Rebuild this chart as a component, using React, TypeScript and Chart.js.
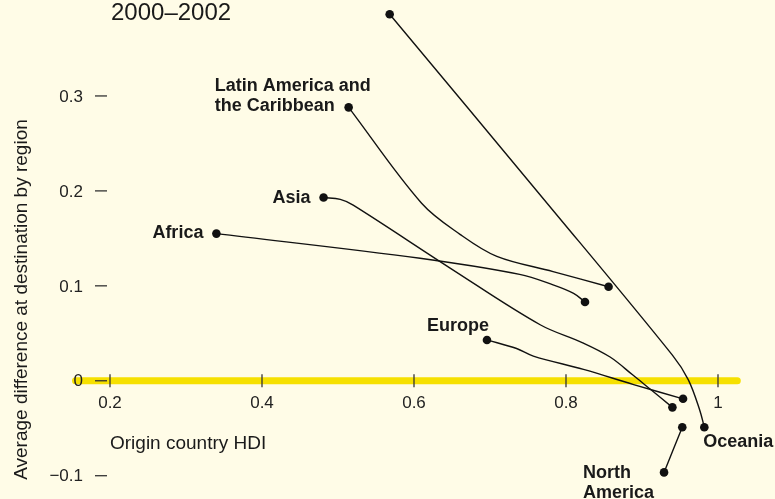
import React, { useEffect, useRef } from "react";
import { Chart, registerables } from "chart.js";

Chart.register(...registerables);

// ---- Data ----
const titleText = "2000–2002";
const xAxisTitle = "Origin country HDI";
const yAxisTitle = "Average difference at destination by region";

const xTicks = [0.2, 0.4, 0.6, 0.8, 1];
const xTickLabels = ["0.2", "0.4", "0.6", "0.8", "1"];
const yTicks = [-0.1, 0, 0.1, 0.2, 0.3];
const yTickLabels = ["−0.1", "0", "0.1", "0.2", "0.3"];

const regionNames = ["Oceania", "Latin America and the Caribbean", "Asia", "Africa", "Europe", "North America"];

const oceaniaHDI = [0.568, 0.771, 0.94, 0.961, 0.976, 0.982];
const oceaniaDiff = [0.386, 0.191, 0.027, 0.001, -0.031, -0.049];

const latinHDI = [0.514, 0.61, 0.661, 0.709, 0.783, 0.856];
const latinDiff = [0.288, 0.187, 0.154, 0.131, 0.115, 0.099];

const asiaHDI = [0.481, 0.503, 0.52, 0.647, 0.766, 0.822, 0.858, 0.888, 0.911, 0.94];
const asiaDiff = [0.193, 0.191, 0.185, 0.119, 0.059, 0.04, 0.025, 0.006, -0.009, -0.028];

const africaHDI = [0.34, 0.608, 0.739, 0.783, 0.81, 0.825];
const africaDiff = [0.155, 0.129, 0.112, 0.101, 0.092, 0.083];

const europeHDI = [0.696, 0.735, 0.757, 0.823, 0.889, 0.954];
const europeDiff = [0.043, 0.034, 0.026, 0.012, -0.004, -0.019];

const northAmericaHDI = [0.929, 0.953];
const northAmericaDiff = [-0.0965, -0.049];

// ---- Styles ----
const BG = "#FFFCE7";
const YELLOW = "#F6E000";
const INK = "#1a1a1a";
const FONT = "'Liberation Sans', Arial, Helvetica, sans-serif";

const toPoints = (xs: number[], ys: number[]) => xs.map((v, i) => ({ x: v, y: ys[i] }));

const seriesList = [
  { name: regionNames[0], data: toPoints(oceaniaHDI, oceaniaDiff) },
  { name: regionNames[1], data: toPoints(latinHDI, latinDiff) },
  { name: regionNames[2], data: toPoints(asiaHDI, asiaDiff) },
  { name: regionNames[3], data: toPoints(africaHDI, africaDiff) },
  { name: regionNames[4], data: toPoints(europeHDI, europeDiff) },
  { name: regionNames[5], data: toPoints(northAmericaHDI, northAmericaDiff) },
];

const decorPlugin = {
  id: "decor",
  beforeDatasetsDraw(chart: any) {
    const { ctx, chartArea, scales } = chart;
    const xs = scales.x;
    const ys = scales.y;
    const y0 = ys.getPixelForValue(0);
    ctx.save();
    // yellow zero line
    ctx.strokeStyle = YELLOW;
    ctx.lineWidth = 7;
    ctx.lineCap = "round";
    ctx.beginPath();
    ctx.moveTo(chartArea.left + 3.5, y0);
    ctx.lineTo(chartArea.right - 3.5, y0);
    ctx.stroke();

    // x ticks
    ctx.lineCap = "butt";
    ctx.strokeStyle = "#333";
    ctx.lineWidth = 1.3;
    ctx.fillStyle = "#222";
    ctx.font = `17px ${FONT}`;
    ctx.textAlign = "center";
    ctx.textBaseline = "alphabetic";
    xTicks.forEach((v, i) => {
      const px = xs.getPixelForValue(v);
      ctx.beginPath();
      ctx.moveTo(px, y0 - 6.5);
      ctx.lineTo(px, y0 + 6.5);
      ctx.stroke();
      ctx.fillText(xTickLabels[i], px, y0 + 27);
    });

    // y ticks
    ctx.textAlign = "right";
    ctx.textBaseline = "middle";
    yTicks.forEach((v, i) => {
      const py = ys.getPixelForValue(v);
      ctx.beginPath();
      ctx.moveTo(chartArea.left + 23, py);
      ctx.lineTo(chartArea.left + 35, py);
      ctx.stroke();
      ctx.fillText(yTickLabels[i], chartArea.left + 11, py + 1);
    });
    ctx.restore();
  },
  afterDatasetsDraw(chart: any) {
    const { ctx, scales } = chart;
    const xs = scales.x;
    const ys = scales.y;
    const pt = (si: number, idx: number) => {
      const d = seriesList[si].data;
      const p = d[idx < 0 ? d.length + idx : idx];
      return [xs.getPixelForValue(p.x), ys.getPixelForValue(p.y)];
    };
    ctx.save();
    ctx.fillStyle = INK;

    // Title
    ctx.font = `24px ${FONT}`;
    ctx.textAlign = "left";
    ctx.textBaseline = "alphabetic";
    ctx.fillText(titleText, 111, 20);

    // Axis titles
    ctx.font = `19px ${FONT}`;
    ctx.fillText(xAxisTitle, xs.getPixelForValue(0.2), ys.getPixelForValue(0) + 68);
    ctx.save();
    ctx.translate(27, 299.5);
    ctx.rotate(-Math.PI / 2);
    ctx.textAlign = "center";
    ctx.fillText(yAxisTitle, 0, 0);
    ctx.restore();

    // Region labels
    ctx.font = `bold 18px ${FONT}`;
    // Oceania (end point)
    let [px, py] = pt(0, -1);
    ctx.textAlign = "left";
    ctx.textBaseline = "alphabetic";
    ctx.fillText("Oceania", px - 1, py + 20);
    // Latin America (start)
    [px, py] = pt(1, 0);
    ctx.fillText("Latin America and", px - 134, py - 16);
    ctx.fillText("the Caribbean", px - 134, py + 4);
    // Asia
    [px, py] = pt(2, 0);
    ctx.textAlign = "right";
    ctx.textBaseline = "middle";
    ctx.fillText("Asia", px - 13, py);
    // Africa
    [px, py] = pt(3, 0);
    ctx.fillText("Africa", px - 13, py - 1);
    // Europe
    [px, py] = pt(4, 0);
    ctx.textBaseline = "alphabetic";
    ctx.fillText("Europe", px + 2, py - 9);
    // North America
    [px, py] = pt(5, 0);
    ctx.textAlign = "left";
    ctx.fillText("North", px - 81, py + 6);
    ctx.fillText("America", px - 81, py + 26);
    ctx.restore();
  },
};

export default function App() {
  const canvasRef = useRef<HTMLCanvasElement | null>(null);

  useEffect(() => {
    const canvas = canvasRef.current;
    if (!canvas) return;
    const chart = new Chart(canvas, {
      type: "line",
      data: {
        datasets: seriesList.map((s) => ({
          label: s.name,
          data: s.data,
          borderColor: "#111",
          borderWidth: 1.4,
          tension: 0.35,
          fill: false,
          clip: false as any,
          pointRadius: (c: any) =>
            c.dataIndex === 0 || c.dataIndex === s.data.length - 1 ? 4.3 : 0,
          pointHoverRadius: 0,
          pointBackgroundColor: "#111",
          pointBorderWidth: 0,
        })),
      },
      options: {
        animation: false,
        responsive: true,
        maintainAspectRatio: false,
        events: [],
        layout: { padding: { left: 72, right: 34.2, top: 10.5, bottom: 4 } },
        plugins: { legend: { display: false }, tooltip: { enabled: false } },
        scales: {
          x: { type: "linear", min: 0.15, max: 1.03, display: false },
          y: { type: "linear", min: -0.12, max: 0.39, display: false },
        },
      },
      plugins: [decorPlugin],
    });
    return () => chart.destroy();
  }, []);

  return (
    <div
      style={{
        position: "fixed",
        left: 0,
        top: 0,
        width: 775,
        height: 499,
        background: BG,
        overflow: "hidden",
      }}
    >
      <canvas ref={canvasRef} />
    </div>
  );
}
